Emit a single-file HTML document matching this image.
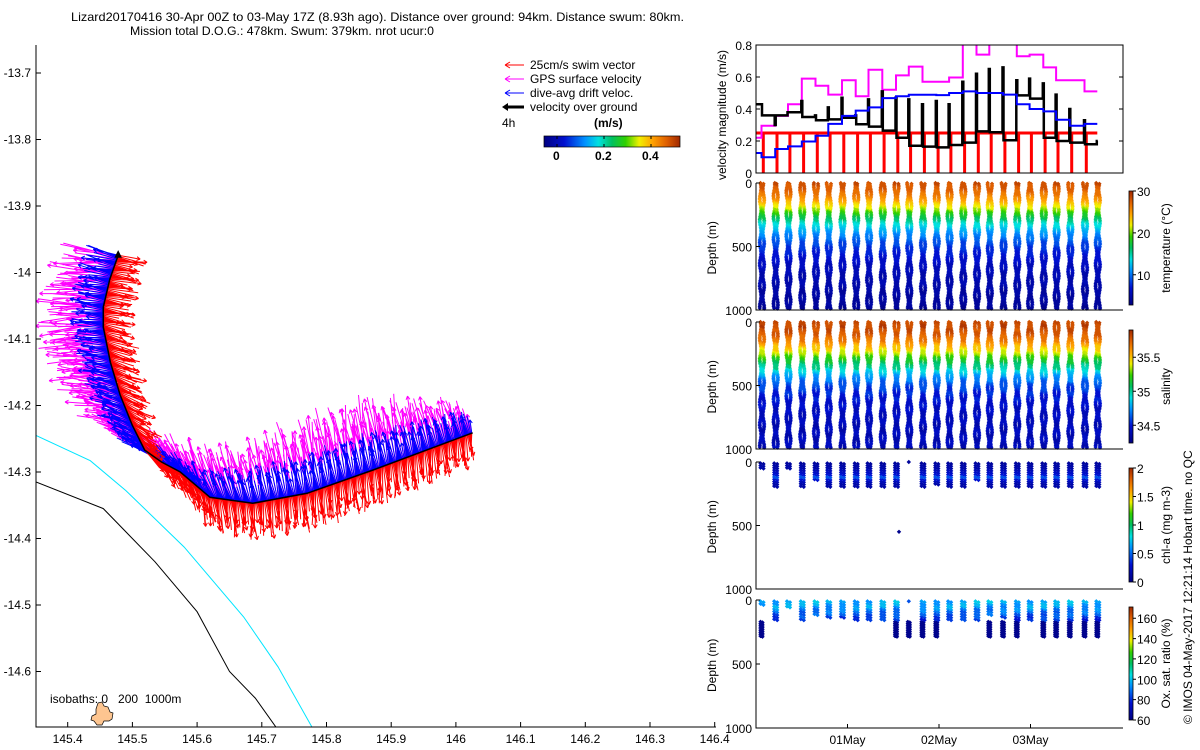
<!DOCTYPE html>
<html><head><meta charset="utf-8"><style>
html,body{margin:0;padding:0;background:#fff;}
svg{display:block;font-family:"Liberation Sans",sans-serif;}
text{font-size:12px;fill:#000;}
</style></head><body>
<svg id="root" width="1200" height="750" viewBox="0 0 1200 750">
<defs>
<linearGradient id="jetV" x1="0" y1="1" x2="0" y2="0">
<stop offset="0" stop-color="#000080"/><stop offset="0.15" stop-color="#0010d0"/><stop offset="0.3" stop-color="#0090ff"/><stop offset="0.4" stop-color="#00e0e0"/><stop offset="0.5" stop-color="#00c060"/><stop offset="0.6" stop-color="#30d000"/><stop offset="0.7" stop-color="#f0f000"/><stop offset="0.8" stop-color="#ffa000"/><stop offset="0.9" stop-color="#e06000"/><stop offset="1" stop-color="#a02800"/>
</linearGradient>
<linearGradient id="jetH" x1="0" y1="0" x2="1" y2="0">
<stop offset="0" stop-color="#000080"/><stop offset="0.15" stop-color="#0010d0"/><stop offset="0.3" stop-color="#0090ff"/><stop offset="0.4" stop-color="#00e0e0"/><stop offset="0.5" stop-color="#00c060"/><stop offset="0.6" stop-color="#30d000"/><stop offset="0.7" stop-color="#f0f000"/><stop offset="0.8" stop-color="#ffa000"/><stop offset="0.9" stop-color="#e06000"/><stop offset="1" stop-color="#a02800"/>
</linearGradient>
<clipPath id="mapClip"><rect x="36" y="45" width="680" height="682"/></clipPath>
<clipPath id="velClip"><rect x="756" y="45" width="367" height="128"/></clipPath>
</defs>
<text x="71" y="21" textLength="613" lengthAdjust="spacingAndGlyphs">Lizard20170416 30-Apr 00Z to 03-May 17Z (8.93h ago). Distance over ground: 94km. Distance swum: 80km.</text>
<text x="130" y="35" textLength="304" lengthAdjust="spacingAndGlyphs">Mission total D.O.G.: 478km. Swum: 379km. nrot ucur:0</text>
<g id="map"></g>
<g id="mapAxes"></g>
<g id="legend">
<line x1="505" y1="65" x2="524" y2="65" stroke="#f00"/><path d="M505 65 l5 -3 M505 65 l5 3" stroke="#f00"/>
<text x="530" y="69">25cm/s swim vector</text>
<line x1="505" y1="79" x2="524" y2="79" stroke="#f0f"/><path d="M505 79 l5 -3 M505 79 l5 3" stroke="#f0f"/>
<text x="530" y="83">GPS surface velocity</text>
<line x1="505" y1="93" x2="524" y2="93" stroke="#00f"/><path d="M505 93 l5 -3 M505 93 l5 3" stroke="#00f"/>
<text x="530" y="97">dive-avg drift veloc.</text>
<line x1="505" y1="107" x2="524" y2="107" stroke="#000" stroke-width="3"/><path d="M502 107 l6 -4 v8z" fill="#000"/>
<text x="530" y="111">velocity over ground</text>
<text x="502" y="127">4h</text>
<text x="594" y="127" style="font-weight:bold">(m/s)</text>
<rect x="544" y="136" width="136" height="11" fill="url(#jetH)" stroke="#000" stroke-width="0.7"/>
<path d="M557 136v3M557 147v-3M604 136v3M604 147v-3M651 136v3M651 147v-3" stroke="#000"/>
<text x="553" y="160" style="font-weight:bold">0</text><text x="595" y="160" style="font-weight:bold">0.2</text><text x="642" y="160" style="font-weight:bold">0.4</text>
</g>
<g id="vel"></g>
<g id="prof"></g>
<text transform="translate(1192,724) rotate(-90)" x="0" y="0">© IMOS 04-May-2017 12:21:14 Hobart time. no QC</text>
</svg>
<script>
// ---------- data ----------
const trackLon=[145.478,145.465,145.455,145.455,145.466,145.481,145.500,145.519,145.545,145.574,145.620,145.686,145.770,145.872,146.026];
const trackLat=[-13.974,-14.010,-14.052,-14.082,-14.135,-14.184,-14.230,-14.267,-14.285,-14.300,-14.338,-14.347,-14.332,-14.297,-14.241];
const gpsDx=[-45,-48,-50,-50,-48,-45,-38,-30,-25,-20,-15,-10,-10,-10,-10];
const gpsDy=[-5,-2,0,5,0,-5,-12,-20,-25,-30,-40,-45,-55,-55,-25];
const driftDx=[-25,-25,-25,-25,-25,-25,-24,-22,-18,-15,-10,-6,-5,-5,-5];
const driftDy=[-6,-5,-4,-2,-5,-8,-10,-12,-15,-18,-22,-26,-28,-28,-18];
const swimDx=[22,23,24,24,23,22,20,18,14,10,4,2,2,2,2];
const swimDy=[4,4,4,6,8,10,13,16,19,22,26,28,28,28,24];
const latTicks=[-13.7,-13.8,-13.9,-14,-14.1,-14.2,-14.3,-14.4,-14.5,-14.6];
const lonTicks=[145.4,145.5,145.6,145.7,145.8,145.9,146,146.1,146.2,146.3,146.4];
const iso200Lon=[145.351,145.435,145.49,145.58,145.672,145.725,145.78];
const iso200Lat=[-14.245,-14.283,-14.328,-14.413,-14.518,-14.593,-14.688];
const iso1000Lon=[145.351,145.455,145.535,145.6,145.65,145.69,145.725];
const iso1000Lat=[-14.315,-14.355,-14.435,-14.51,-14.6,-14.64,-14.688];
const diveT=[0.06,0.21,0.35,0.50,0.65,0.79,0.94,1.09,1.23,1.38,1.53,1.67,1.82,1.97,2.11,2.26,2.41,2.55,2.70,2.85,2.99,3.14,3.28,3.43,3.59,3.73];
const gpsVel=[0.22,0.295,0.357,0.43,0.59,0.545,0.49,0.58,0.48,0.645,0.52,0.61,0.665,0.57,0.57,0.597,0.85,0.74,0.85,0.85,0.73,0.74,0.66,0.58,0.58,0.51];
const driftVel=[0.125,0.098,0.15,0.166,0.197,0.233,0.307,0.357,0.39,0.41,0.468,0.48,0.489,0.489,0.487,0.5,0.51,0.5,0.5,0.49,0.43,0.40,0.385,0.333,0.295,0.307];
const vogBase=[0.43,0.36,0.36,0.38,0.35,0.33,0.335,0.345,0.305,0.29,0.265,0.22,0.17,0.165,0.16,0.175,0.19,0.26,0.255,0.205,0.485,0.465,0.22,0.2,0.19,0.18];
const vogSpike=[0.43,0.30,0.38,0.45,0.36,0.41,0.47,0.36,0.46,0.51,0.47,0.46,0.43,0.45,0.43,0.57,0.62,0.65,0.66,0.58,0.59,0.56,0.49,0.40,0.33,0.2];
const swimVel=0.25;
const profDepth=[0,50,100,150,200,250,300,350,400,450,500,600,700,800,900,1000];
const profTemp=[28,27.5,26,24,21,18,15,13,11,9.5,8,6.5,5.5,5,4.5,4];
const profSal=[35.8,35.8,35.75,35.65,35.5,35.35,35.15,35.0,34.85,34.7,34.6,34.5,34.45,34.42,34.42,34.42];
const chlDepth=[0,50,100,120,140,200];
const chlVal=[0.1,0.15,0.3,0.45,0.25,0.1];
const chlMax=[60,190,60,190,140,190,190,190,190,190,190,0,190,180,190,190,150,190,190,190,190,190,190,190,190,190];
const oxyDepth=[0,50,100,150,170,300];
const oxyVal=[98,95,88,80,66,62];
const oxyMax=[40,150,50,150,120,140,140,150,150,150,150,0,150,150,150,150,150,120,140,150,150,150,150,150,150,150];
const oxyDeep=[1,0,0,0,0,0,0,0,0,0,1,1,1,1,0,0,0,1,1,1,0,1,1,1,1,1];
// ---------- helpers ----------
const NS='http://www.w3.org/2000/svg';
function mk(parent,tag,attrs){const e=document.createElementNS(NS,tag);for(const k in attrs)e.setAttribute(k,attrs[k]);parent.appendChild(e);return e;}
const cmStops=[0,0.15,0.3,0.4,0.5,0.6,0.7,0.8,0.9,1];
const cmR=[0,0,0,0,0,48,240,255,224,160];
const cmG=[0,16,144,224,192,208,240,160,96,40];
const cmB=[128,208,255,224,96,0,0,0,0,0];
function jet(v){v=Math.max(0,Math.min(1,v));v=Math.round(v*40)/40;return 'rgb('+Math.round(interp(cmStops,cmR,v))+','+Math.round(interp(cmStops,cmG,v))+','+Math.round(interp(cmStops,cmB,v))+')';}
function interp(xs,ys,x){if(x<=xs[0])return ys[0];for(let i=1;i<xs.length;i++){if(x<=xs[i]){const f=(x-xs[i-1])/(xs[i]-xs[i-1]);return ys[i-1]+f*(ys[i]-ys[i-1]);}}return ys[ys.length-1];}
const lonX=lon=>36+(lon-145.351)*647;
const latY=lat=>73+(-13.7-lat)*665;
const tX=t=>756+t*91.5;
const vY=v=>173-v*160;
// ---------- map ----------
const map=document.getElementById('map');
const mapG=mk(map,'g',{'clip-path':'url(#mapClip)'});
function poly(lons,lats,color,name){const p=lons.map((l,i)=>lonX(l).toFixed(1)+','+latY(lats[i]).toFixed(1)).join(' ');const e=mk(mapG,'polyline',{points:p,fill:'none',stroke:color,'stroke-width':1});

}
poly(iso200Lon,iso200Lat,'#00e5ff','isobath-200m');
poly(iso1000Lon,iso1000Lat,'#000','isobath-1000m');
const island=mk(mapG,'path',{d:'M98 703 l4 -1 2 4 4 1 2 5 3 1 -1 6 -3 2 -5 0 -2 4 -5 0 -3 -4 -3 -1 1 -4 4 -2 0 -5z',fill:'#fdc590',stroke:'#000','stroke-width':0.7});


function vectors(dxA,dyA,color,name,head){const g=mk(mapG,'g',{stroke:color,'stroke-width':1,fill:'none'});


let d='';let c=0;
for(let i=0;i<trackLon.length-1;i++){const x0=lonX(trackLon[i]),y0=latY(trackLat[i]),x1=lonX(trackLon[i+1]),y1=latY(trackLat[i+1]);const L=Math.hypot(x1-x0,y1-y0);const n=Math.max(2,Math.round(L/1.0));
for(let s=0;s<n;s++){const f=s/n;const x=x0+f*(x1-x0),y=y0+f*(y1-y0);const j=1+0.25*Math.sin(c*1.3)+0.15*Math.sin(c*0.37);const rot=0.15*Math.sin(c*0.71);c++;
let vx=(dxA[i]+f*(dxA[i+1]-dxA[i]))*j,vy=(dyA[i]+f*(dyA[i+1]-dyA[i]))*j;const cx=vx*Math.cos(rot)-vy*Math.sin(rot),cy=vx*Math.sin(rot)+vy*Math.cos(rot);vx=cx;vy=cy;
d+='M'+x.toFixed(1)+' '+y.toFixed(1)+'l'+vx.toFixed(1)+' '+vy.toFixed(1);
if(head&&s%3==0){const a=Math.atan2(vy,vx);const ex=x+vx,ey=y+vy;d+='M'+ex.toFixed(1)+' '+ey.toFixed(1)+'l'+(-4*Math.cos(a-0.5)).toFixed(1)+' '+(-4*Math.sin(a-0.5)).toFixed(1)+'M'+ex.toFixed(1)+' '+ey.toFixed(1)+'l'+(-4*Math.cos(a+0.5)).toFixed(1)+' '+(-4*Math.sin(a+0.5)).toFixed(1);}}}
mk(g,'path',{d:d});}
vectors(gpsDx,gpsDy,'#ff00ff','gps-velocity-vectors',true);
vectors(driftDx,driftDy,'#0000ff','drift-velocity-vectors',true);
vectors(swimDx,swimDy,'#ff0000','swim-vectors',true);
const trk=mk(mapG,'polyline',{points:trackLon.map((l,i)=>lonX(l).toFixed(1)+','+latY(trackLat[i]).toFixed(1)).join(' '),fill:'none',stroke:'#000','stroke-width':1.5});


const endArrow=mk(mapG,'path',{d:'M'+lonX(trackLon[0])+' '+(latY(trackLat[0])-4)+' l-3 6 6 0z',fill:'#000',stroke:'#000'});


const ax=document.getElementById('mapAxes');
let ad='M36 45V727H716';
latTicks.forEach(v=>{const y=latY(v);ad+='M36 '+y.toFixed(1)+'h5';const t=mk(ax,'text',{x:31,y:(y+4).toFixed(1),'text-anchor':'end'});t.textContent=v;

});
lonTicks.forEach(v=>{const x=lonX(v);ad+='M'+x.toFixed(1)+' 727v-5';const t=mk(ax,'text',{x:x.toFixed(1),y:743,'text-anchor':'middle'});t.textContent=v;

});
mk(ax,'path',{d:ad,stroke:'#000',fill:'none','stroke-width':1});
const isoT=mk(ax,'text',{x:50,y:703});isoT.textContent='isobaths: 0   200  1000m';


isoT.style.whiteSpace='pre';
// ---------- velocity panel ----------
const vel=document.getElementById('vel');
const vg=mk(vel,'g',{'clip-path':'url(#velClip)'});
function stepPath(vals){let d='M'+tX(0)+' '+vY(vals[0]).toFixed(1);for(let k=0;k<diveT.length;k++){d+='H'+tX(diveT[k]).toFixed(1);if(k<vals.length-1)d+='V'+vY(vals[k+1]).toFixed(1);}return d;}
let rd='M'+tX(0)+' '+vY(swimVel);diveT.slice(0,-1).forEach(t=>{const x=tX(t+0.02);rd+='H'+x.toFixed(1)+'V'+vY(0)+'M'+x.toFixed(1)+' '+vY(swimVel);});rd+='H'+tX(diveT[diveT.length-1]);
const red=mk(vg,'path',{d:rd,stroke:'#ff0000','stroke-width':3,fill:'none'});


const mg=mk(vg,'path',{d:stepPath(gpsVel),stroke:'#ff00ff','stroke-width':2,fill:'none'});


let bd='M'+tX(0)+' '+vY(vogBase[0]).toFixed(1);
for(let k=0;k<diveT.length;k++){const x=tX(diveT[k]);bd+='H'+(x-0.5).toFixed(1)+'V'+vY(vogSpike[k]).toFixed(1)+'H'+(x+0.5).toFixed(1);if(k<vogBase.length-1)bd+='V'+vY(vogBase[k+1]).toFixed(1);}
const bk=mk(vg,'path',{d:bd,stroke:'#000','stroke-width':2.5,fill:'none'});


const bl=mk(vg,'path',{d:stepPath(driftVel),stroke:'#0000ff','stroke-width':2,fill:'none'});


let vd='M756 45H1123V173H756Z';
[0,0.2,0.4,0.6,0.8].forEach(v=>{const y=vY(v);vd+='M756 '+y+'h4M1123 '+y+'h-4';const t=mk(vel,'text',{x:752,y:y+5,'text-anchor':'end'});t.textContent=v;

});
mk(vel,'path',{d:vd,stroke:'#000',fill:'none'});
const vl=mk(vel,'text',{transform:'translate(726,180) rotate(-90)'});vl.textContent='velocity magnitude (m/s)';


// ---------- profile panels ----------
const prof=document.getElementById('prof');
const panels=[
 {top:183,bot:310,cb:[191,305],min:2.8,max:30,ticks:[10,20,30],title:'temperature (°C)',name:'temperature-panel'},
 {top:322,bot:449,cb:[330,443],min:34.24,max:35.9,ticks:[34.5,35,35.5],title:'salinity',name:'salinity-panel'},
 {top:462,bot:589,cb:[468,582],min:0,max:2,ticks:[0,0.5,1,1.5,2],title:'chl-a (mg m-3)',name:'chlorophyll-panel'},
 {top:600,bot:728,cb:[607,720],min:60,max:171,ticks:[60,80,100,120,140,160],title:'Ox. sat. ratio (%)',name:'oxygen-panel'}];
panels.forEach((P,pi)=>{
 const g=mk(prof,'g',{});
 
 
 const dY=d=>P.top+d/1000*(P.bot-P.top);
 const buckets={};
 function add(x,d,v){const c=jet((v-P.min)/(P.max-P.min));(buckets[c]=buckets[c]||[]).push('M'+x.toFixed(1)+' '+(dY(d)-2.2).toFixed(1)+'l2.2 2.2-2.2 2.2-2.2-2.2z');}
 diveT.forEach((t,k)=>{const x=tX(t);
  if(pi<2){for(let d=0;d<=990;d+=12){const pr=pi==0?profTemp:profSal;const v=interp(profDepth,pr,d)+0.4*Math.sin(k*2.1+d*0.05)*(pi==0?1:0.1);
    const w=Math.sin(d*0.037+k)*0.7;add(x-1+w,d,v);add(x+2-w,d+6,v);}}
  else if(pi==2){if(chlMax[k]===0){add(x,0,0.1);}else{for(let d=10;d<=chlMax[k];d+=18){const v=interp(chlDepth,chlVal,d);add(x-1+(d%36?0:1),d,v);add(x+2,d+6,v);}}if(k==10)add(x+3,550,0.05);}
  else{if(oxyMax[k]===0){add(x,10,85);}else{for(let d=10;d<=oxyMax[k];d+=20){const v=interp(oxyDepth,oxyVal,d)+4*Math.sin(k+d);add(x-1,d,v);add(x+2,d+8,v);}}
   if(oxyDeep[k]){for(let d=170;d<=290;d+=14){add(x-1,d,64);add(x+1,d+5,63);}}}
 });
 for(const c in buckets){mk(g,'path',{d:buckets[c].join(''),fill:c});}
 let ad='M756 '+P.top+'V'+P.bot+'H1123';
 [0,500,1000].forEach(d=>{const y=dY(d);ad+='M756 '+y.toFixed(1)+'h4';const t=mk(g,'text',{x:752,y:(y+5).toFixed(1),'text-anchor':'end'});t.textContent=d;
  
  });
 mk(g,'path',{d:ad,stroke:'#000',fill:'none'});
 const dl=mk(g,'text',{transform:'translate('+716+','+((P.top+P.bot)/2+28)+') rotate(-90)'});dl.textContent='Depth (m)';
 
 
 const cb=mk(g,'rect',{x:1129,y:P.cb[0],width:4,height:P.cb[1]-P.cb[0],fill:'url(#jetV)',stroke:'#000','stroke-width':0.8});
 
 
 let cd='';P.ticks.forEach(v=>{const y=P.cb[1]-(v-P.min)/(P.max-P.min)*(P.cb[1]-P.cb[0]);cd+='M1133 '+y.toFixed(1)+'h3';const t=mk(g,'text',{x:1137,y:(y+5).toFixed(1)});t.textContent=v;
  
  });
 mk(g,'path',{d:cd,stroke:'#000'});
 const ct=mk(g,'text',{transform:'translate(1170,'+((P.cb[0]+P.cb[1])/2)+') rotate(-90)','text-anchor':'middle'});ct.textContent=P.title;
 
 
});
const dates=['01May','02May','03May'];
const dateT=[1,2,3];
dates.forEach((s,i)=>{const x=tX(dateT[i]);mk(prof,'path',{d:'M'+x+' 728v-4',stroke:'#000'});const t=mk(prof,'text',{x:x,y:744,'text-anchor':'middle'});t.textContent=s;
 
 });
</script>
</body></html>
